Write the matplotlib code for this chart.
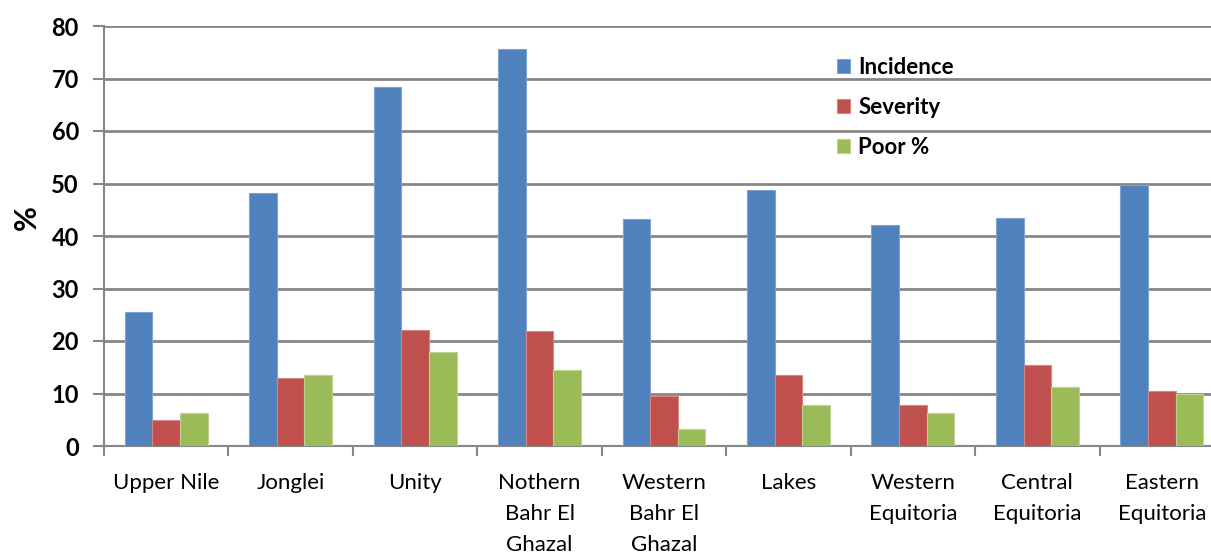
import matplotlib
matplotlib.use("Agg")
import matplotlib.pyplot as plt
import numpy as np

categories = ["Upper Nile", "Jonglei", "Unity", "Nothern\nBahr El\nGhazal",
              "Western\nBahr El\nGhazal", "Lakes", "Western\nEquitoria",
              "Central\nEquitoria", "Eastern\nEquitoria"]
incidence = [25.6, 48.2, 68.3, 75.6, 43.2, 48.8, 42.1, 43.4, 49.8]
severity = [4.9, 13.0, 22.1, 21.9, 9.5, 13.5, 7.8, 15.4, 10.4]
poor = [6.3, 13.6, 17.9, 14.5, 3.2, 7.8, 6.2, 11.2, 10.0]
series_names = ["Incidence", "Severity", "Poor %"]
yticks = [0, 10, 20, 30, 40, 50, 60, 70, 80]

colors = ["#4F81BD", "#C0504D", "#9BBB59"]
edges = ["#7FA3D1", "#D98583", "#BCD48E"]
grid_color = "#868686"

plt.rcParams["font.family"] = ["Lato", "DejaVu Sans"]

fig = plt.figure(figsize=(12.11, 5.54), dpi=100)
ax = fig.add_axes([104 / 1211, 108 / 554, 1120 / 1211, 420 / 554])

x = np.arange(len(categories))
w = 1 / 4.5
for i, (vals, name) in enumerate(zip([incidence, severity, poor], series_names)):
    ax.bar(x + (i - 1) * w, vals, width=w, color=colors[i], edgecolor=edges[i],
           linewidth=0.8, label=name, zorder=3)

ax.set_xlim(-0.5, len(categories) - 0.5)
ax.set_ylim(0, 80)
ax.set_yticks(yticks)
ax.set_yticklabels([str(t) for t in yticks], fontsize=17, fontweight="bold")
ax.yaxis.grid(True, color=grid_color, linewidth=2, zorder=0)
ax.set_axisbelow(True)

ax.set_xticks(x)
ax.set_xticklabels(categories, fontsize=16, linespacing=1.7, va="top")
ax.tick_params(axis="x", which="major", length=0, pad=19.5)
ax.set_xticks(np.arange(len(categories) + 1) - 0.5, minor=True)
ax.tick_params(axis="x", which="minor", length=7, width=1.5, color=grid_color)
ax.tick_params(axis="y", length=8, width=1.5, color=grid_color, pad=10)

for side in ["top", "right"]:
    ax.spines[side].set_visible(False)
for side in ["left", "bottom"]:
    ax.spines[side].set_color(grid_color)
    ax.spines[side].set_linewidth(1.5)

ax.set_ylabel("%", fontsize=22, fontweight="bold")
ax.yaxis.set_label_coords(-0.056, 0.543)

leg = ax.legend(loc="upper left", bbox_to_anchor=(713 / 1120, 0.975), frameon=False,
                prop={"size": 16, "weight": "bold"}, handlelength=0.6,
                handleheight=0.6, handletextpad=0.35, labelspacing=0.87)

fig.savefig("out.png", dpi=100)
